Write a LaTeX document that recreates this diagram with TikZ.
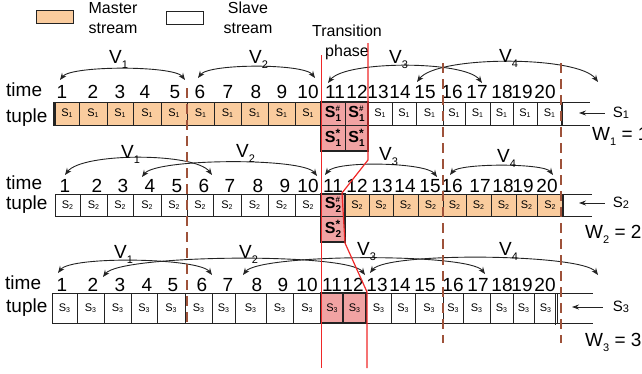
\documentclass[tikz,border=0pt]{standalone}
\usepackage{fontspec}
\setmainfont{Liberation Sans}
\usetikzlibrary{arrows.meta}
\definecolor{orng}{RGB}{250,204,158}
\definecolor{pnk}{RGB}{241,163,163}
\definecolor{brn}{RGB}{158,82,58}
\definecolor{rd}{RGB}{240,40,40}
\definecolor{ink}{RGB}{35,35,35}
\newcommand\fsz[1]{\fontsize{#1}{#1}\selectfont}
\newcommand\ssub[1]{{\fsz{11}S\raisebox{-1pt}{\fsz{7}#1}}}
\newcommand\shash[1]{{\fsz{16}\bfseries S\rlap{\raisebox{6pt}{\fsz{8}\#}}\raisebox{-4pt}{\fsz{10}#1}}}
\newcommand\sstar[1]{{\fsz{16}\bfseries S\rlap{\raisebox{5pt}{\fsz{12}*}}\raisebox{-4pt}{\fsz{10}#1}}}
\newcommand\lsub[2]{#1\raisebox{-5pt}{\fsz{11}#2}}
\newcommand\varcdraw[6]{\coordinate (#1a) at (#2,#3); \coordinate (#1b) at (#4,#5);
  \draw[varc] (#1a) .. controls +({#6},{-1.33*#6}) and +({-#6},{-1.33*#6}) .. (#1b);}
\begin{document}
\begin{tikzpicture}[x=1pt,y=-1pt,
  cell/.style={draw=ink, line width=0.8pt, inner sep=0pt, anchor=center},
  num/.style={font=\fsz{19}, anchor=base, inner sep=0pt},
  lab/.style={font=\fsz{19}, anchor=west, inner sep=0pt},
  vlab/.style={font=\fsz{19}, anchor=base west, inner sep=0pt},
  varc/.style={draw=ink, line width=0.9pt, {Stealth[length=7pt,width=5.5pt]}-{Stealth[length=7pt,width=5.5pt]}},
  rowline/.style={draw=ink, line width=0.8pt},
  dashv/.style={draw=brn, line width=2.4pt, dash pattern=on 10pt off 6pt},
  redline/.style={draw=rd, line width=1.2pt},
  larr/.style={draw=ink, line width=0.8pt, -{Stealth[length=7pt,width=5pt]}},
  legbox/.style={draw=ink, line width=1pt, minimum width=37pt, minimum height=13pt, inner sep=0pt},
  legtxt/.style={font=\fontsize{16}{20}\selectfont, align=center, inner sep=0pt}]
\useasboundingbox (0,0) rectangle (642,373);

% legend
\node[legbox, fill=orng] (legm) at (54.5,16.5) {};
\node[legtxt] (legmt) at (113,18) {Master\\stream};
\node[legbox, fill=white] (legs) at (184.5,17.5) {};
\node[legtxt] (legst) at (248,18) {Slave\\stream};
\node[legtxt] (trans) at (347,42) {Transition\\phase};

% ---------- row 1 ----------
\node[lab] (time1) at (6,90) {time};
\node[lab] (tuple1) at (6,118) {tuple};
\draw[rowline] (53,102) -- (590,102);
\draw[rowline] (53,125) -- (590,125);
\foreach \i/\a/\b in {1/55/79,2/79/107,3/107/133,4/133/161,5/161/187,6/187/214,7/214/241,8/241/268,9/268/295,10/295/321}
  \node[cell, fill=orng, line width=1pt, minimum width={(\b-\a)*1pt}, minimum height=23pt] (r1c\i) at ({(\a+\b)/2},113.5) {\ssub{1}};
\foreach \i/\a/\b in {13/368/392,14/392/416,15/416/443,16/443/465,17/465/490,18/490/513,19/513/537,20/537/562}
  \node[cell, fill=white, minimum width={(\b-\a)*1pt}, minimum height=23pt] (r1c\i) at ({(\a+\b)/2},113.5) {\ssub{1}};
\node[cell, fill=pnk, minimum width=24pt, minimum height=23pt] (r1c11) at (333,113.5) {\shash{1}};
\node[cell, fill=pnk, minimum width=23pt, minimum height=23pt] (r1c12) at (356.5,113.5) {\shash{1}};
\node[cell, fill=pnk, minimum width=24pt, minimum height=26pt] (r1d11) at (333,138) {\sstar{1}};
\node[cell, fill=pnk, minimum width=23pt, minimum height=26pt] (r1d12) at (356.5,138) {\sstar{1}};
\draw[draw=ink, line width=1.8pt] (321,102) rectangle (368,151);
\draw[draw=ink, line width=2.4pt] (54,102) -- (54,125);
\draw[draw=ink, line width=1.8pt] (562,102) -- (562,125);
\foreach \i/\x in {1/62,2/93,3/120,4/145,5/175,6/200,7/228,8/256,9/282,10/308,11/335,12/357,13/378,14/400,15/425,16/452,17/477,18/502,19/522,20/545}
  \node[num] (r1n\i) at (\x,98) {\i};
\varcdraw{r1v1}{60}{80}{185}{80}{11}
\varcdraw{r1v2}{198}{78}{315}{78}{11}
\varcdraw{r1v3}{328}{83}{482}{83}{17}
\varcdraw{r1v4}{417}{82}{598}{82}{20}
\node[vlab] (r1l1) at (109,63) {\lsub{V}{1}};
\node[vlab] (r1l2) at (249,63) {\lsub{V}{2}};
\node[vlab] (r1l3) at (389,63) {\lsub{V}{3}};
\node[vlab] (r1l4) at (499,62) {\lsub{V}{4}};
\node[font=\fsz{15}, inner sep=0pt] (s1) at (621,113) {S\raisebox{-1pt}{\fsz{11}1}};
\coordinate (s1tip) at (579,113);
\draw[larr] ([xshift=-8pt]s1.west) -- (s1tip);
\node[vlab] (w1) at (592,140) {\lsub{W}{1} = 1};

% ---------- row 2 ----------
\node[lab] (time2) at (6,183) {time};
\node[lab] (tuple2) at (6,205) {tuple};
\draw[rowline] (55,194) -- (592,194);
\draw[rowline] (55,216) -- (592,216);
\foreach \i/\a/\b in {1/55/80,2/80/107,3/107/133,4/133/161,5/161/187,6/187/213,7/213/241,8/241/268,9/268/295,10/295/321}
  \node[cell, fill=white, minimum width={(\b-\a)*1pt}, minimum height=22pt] (r2c\i) at ({(\a+\b)/2},205) {\ssub{2}};
\foreach \i/\a/\b in {12/345/369,13/369/393,14/393/418,15/418/443,16/443/466,17/466/491,18/491/516,19/516/537,20/537/563}
  \node[cell, fill=orng, line width=1pt, minimum width={(\b-\a)*1pt}, minimum height=22pt] (r2c\i) at ({(\a+\b)/2},205) {\ssub{2}};
\node[cell, fill=pnk, minimum width=24pt, minimum height=22pt] (r2c11) at (333,205) {\shash{2}};
\node[cell, fill=pnk, minimum width=24pt, minimum height=26pt] (r2d11) at (333,229) {\sstar{2}};
\draw[draw=ink, line width=1.8pt] (321,194) rectangle (345,242);
\draw[draw=ink, line width=1.8pt] (563,194) -- (563,216);
\foreach \i/\x in {1/65,2/97,3/123,4/150,5/177,6/204,7/230,8/258,9/285,10/308,11/333,12/357,13/382,14/405,15/430,16/452,17/480,18/503,19/523,20/547}
  \node[num] (r2n\i) at (\x,192) {\i};
\varcdraw{r2v1}{65}{175}{212}{175}{17}
\varcdraw{r2v2}{142}{177}{317}{176}{14}
\varcdraw{r2v3}{325}{175}{437}{177}{11}
\varcdraw{r2v4}{450}{175}{553}{175}{9}
\node[vlab] (r2l1) at (121,158) {\lsub{V}{1}};
\node[vlab] (r2l2) at (236,157) {\lsub{V}{2}};
\node[vlab] (r2l3) at (379,160) {\lsub{V}{3}};
\node[vlab] (r2l4) at (497,162) {\lsub{V}{4}};
\node[font=\fsz{15}, inner sep=0pt] (s2) at (621,203) {S\raisebox{-1pt}{\fsz{11}2}};
\coordinate (s2tip) at (579,203);
\draw[larr] ([xshift=-8pt]s2.west) -- (s2tip);
\node[vlab] (w2) at (585,238) {\lsub{W}{2} = 2};

% ---------- row 3 ----------
\node[lab] (time3) at (5,283) {time};
\node[lab] (tuple3) at (6,308) {tuple};
\draw[rowline] (52,293) -- (593,293);
\draw[rowline] (52,323) -- (593,323);
\foreach \i/\a/\b in {1/52/77,2/77/104,3/104/131,4/131/157,5/157/185,6/185/212,7/212/235,8/235/266,9/266/293,10/293/321,13/366/391,14/391/415,15/415/443,16/443/463,17/463/490,18/490/513,19/513/534,20/534/557}
  \node[cell, fill=white, minimum width={(\b-\a)*1pt}, minimum height=30pt] (r3c\i) at ({(\a+\b)/2},308) {\ssub{3}};
\node[cell, fill=pnk, line width=1.2pt, minimum width=22pt, minimum height=30pt] (r3c11) at (332,308) {\ssub{3}};
\node[cell, fill=pnk, line width=1.2pt, minimum width=23pt, minimum height=30pt] (r3c12) at (354.5,308) {\ssub{3}};
\draw[draw=ink, line width=0.6pt] (555.5,293) -- (555.5,325);
\foreach \i/\x in {1/62,2/93,3/120,4/147,5/173,6/202,7/228,8/257,9/283,10/307,11/332,12/353,13/377,14/400,15/425,16/453,17/478,18/502,19/522,20/545}
  \node[num] (r3n\i) at (\x,291) {\i};
\varcdraw{r3v1}{58}{273}{212}{275}{13}
\varcdraw{r3v2}{103}{277}{365}{275}{17}
\varcdraw{r3v3}{243}{275}{485}{274}{16}
\varcdraw{r3v4}{370}{273}{598}{275}{16}
\node[vlab] (r3l1) at (114,258) {\lsub{V}{1}};
\node[vlab] (r3l2) at (239,258) {\lsub{V}{2}};
\node[vlab] (r3l3) at (357,255) {\lsub{V}{3}};
\node[vlab] (r3l4) at (499,255) {\lsub{V}{4}};
\node[font=\fsz{15}, inner sep=0pt] (s3) at (621,307) {S\raisebox{-1pt}{\fsz{11}3}};
\coordinate (s3tip) at (572,307);
\draw[larr] ([xshift=-10pt]s3.west) -- (s3tip);
\node[vlab] (w3) at (585,346) {\lsub{W}{3} = 3};

% dashed window borders
\draw[dashv] (187,88) -- (187,322);
\draw[dashv] (443,63) -- (443,343);
\draw[dashv] (561,63) -- (561,343);

% transition phase red lines
\draw[redline] (321.5,55) -- (321.5,368);
\draw[redline] (368,43) -- (368,160) -- (342,193) -- (345,243) -- (367,292) -- (367,368);
\end{tikzpicture}
\end{document}
